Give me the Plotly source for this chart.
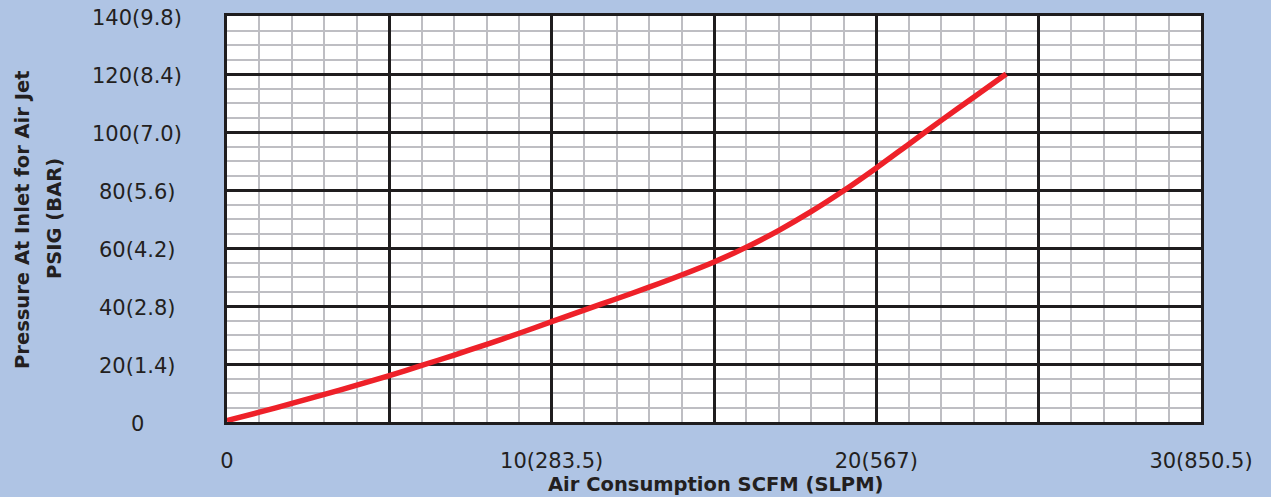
import plotly.graph_objects as go

# Data
scfm = [0, 1, 2, 3, 4, 5, 6, 7, 8, 9, 10, 11, 12, 13, 14, 15, 16, 17, 18, 19, 20, 21, 22, 23, 24]
psig = [0.5, 3.4, 6.4, 9.5, 12.7, 16.0, 19.5, 23.1, 26.8, 30.6, 34.6, 38.6, 42.5, 46.5, 50.7,
        55.2, 60.3, 66.1, 72.6, 79.8, 87.6, 95.8, 104.0, 112.0, 120.0]

x_tick_vals = [0, 5, 10, 15, 20, 25, 30]
x_tick_text = ["0", "", "10(283.5)", "", "20(567)", "", "30(850.5)"]
y_tick_vals = [0, 20, 40, 60, 80, 100, 120, 140]
y_tick_text = ["0", "20(1.4)", "40(2.8)", "60(4.2)", "80(5.6)", "100(7.0)", "120(8.4)", "140(9.8)"]

x_title = "Air Consumption SCFM (SLPM)"
y_title_lines = ["Pressure At Inlet for Air Jet", "PSIG (BAR)"]

BG = "#AFC4E4"
BLACK = "#1F1D1E"
GRAY = "#BEBEC3"
RED = "#EE2129"
FONT = "DejaVu Sans"

fig = go.Figure()
fig.add_trace(go.Scatter(x=scfm, y=psig, mode="lines",
                         line=dict(color=RED, width=5.5, shape="spline", smoothing=0.8),
                         showlegend=False, hoverinfo="skip"))

fig.update_xaxes(range=[0, 30], tickmode="array", tickvals=x_tick_vals, ticktext=x_tick_text,
                 showgrid=True, gridcolor=BLACK, gridwidth=2.5,
                 minor=dict(dtick=1, tick0=0, showgrid=True, gridcolor=GRAY, gridwidth=2),
                 showline=True, linecolor=BLACK, linewidth=2.5, mirror=True,
                 zeroline=False, ticks="", ticklabelstandoff=18,
                 tickfont=dict(family=FONT, size=21, color="#231F20"))
fig.update_yaxes(range=[0, 140], tickmode="array", tickvals=y_tick_vals,
                 showgrid=True, gridcolor=BLACK, gridwidth=2.5,
                 minor=dict(dtick=5, tick0=0, showgrid=True, gridcolor=GRAY, gridwidth=2),
                 showline=True, linecolor=BLACK, linewidth=2.5, mirror=True,
                 zeroline=False, ticks="", showticklabels=False)

annotations = []
for v, t in zip(y_tick_vals, y_tick_text):
    annotations.append(dict(x=-0.0924, xref="paper", y=v, yref="y", text=t, showarrow=False,
                            xanchor="center", yanchor="middle", yshift=-2,
                            font=dict(family=FONT, size=21, color="#231F20")))
annotations.append(dict(x=0.502, xref="paper", y=-0.154, yref="paper", text=x_title,
                        showarrow=False, xanchor="center", yanchor="middle",
                        font=dict(family=FONT, size=19.5, color="#231F20", weight="bold")))
for xp, line in zip([-0.2105, -0.1776], y_title_lines):
    annotations.append(dict(x=xp, xref="paper", y=0.5, yref="paper", text=line, textangle=-90,
                            showarrow=False, xanchor="center", yanchor="middle",
                            font=dict(family=FONT, size=19.5, color="#231F20", weight="bold")))

fig.update_layout(width=1271, height=497, paper_bgcolor=BG, plot_bgcolor="white",
                  margin=dict(l=227, r=70, t=16, b=75, autoexpand=False),
                  annotations=annotations, showlegend=False)

fig.write_html("out.html", config={"displayModeBar": False},
               post_script="document.body.style.margin='0';"
                           "document.body.style.background='" + BG + "';"
                           "document.body.style.overflow='hidden';")
